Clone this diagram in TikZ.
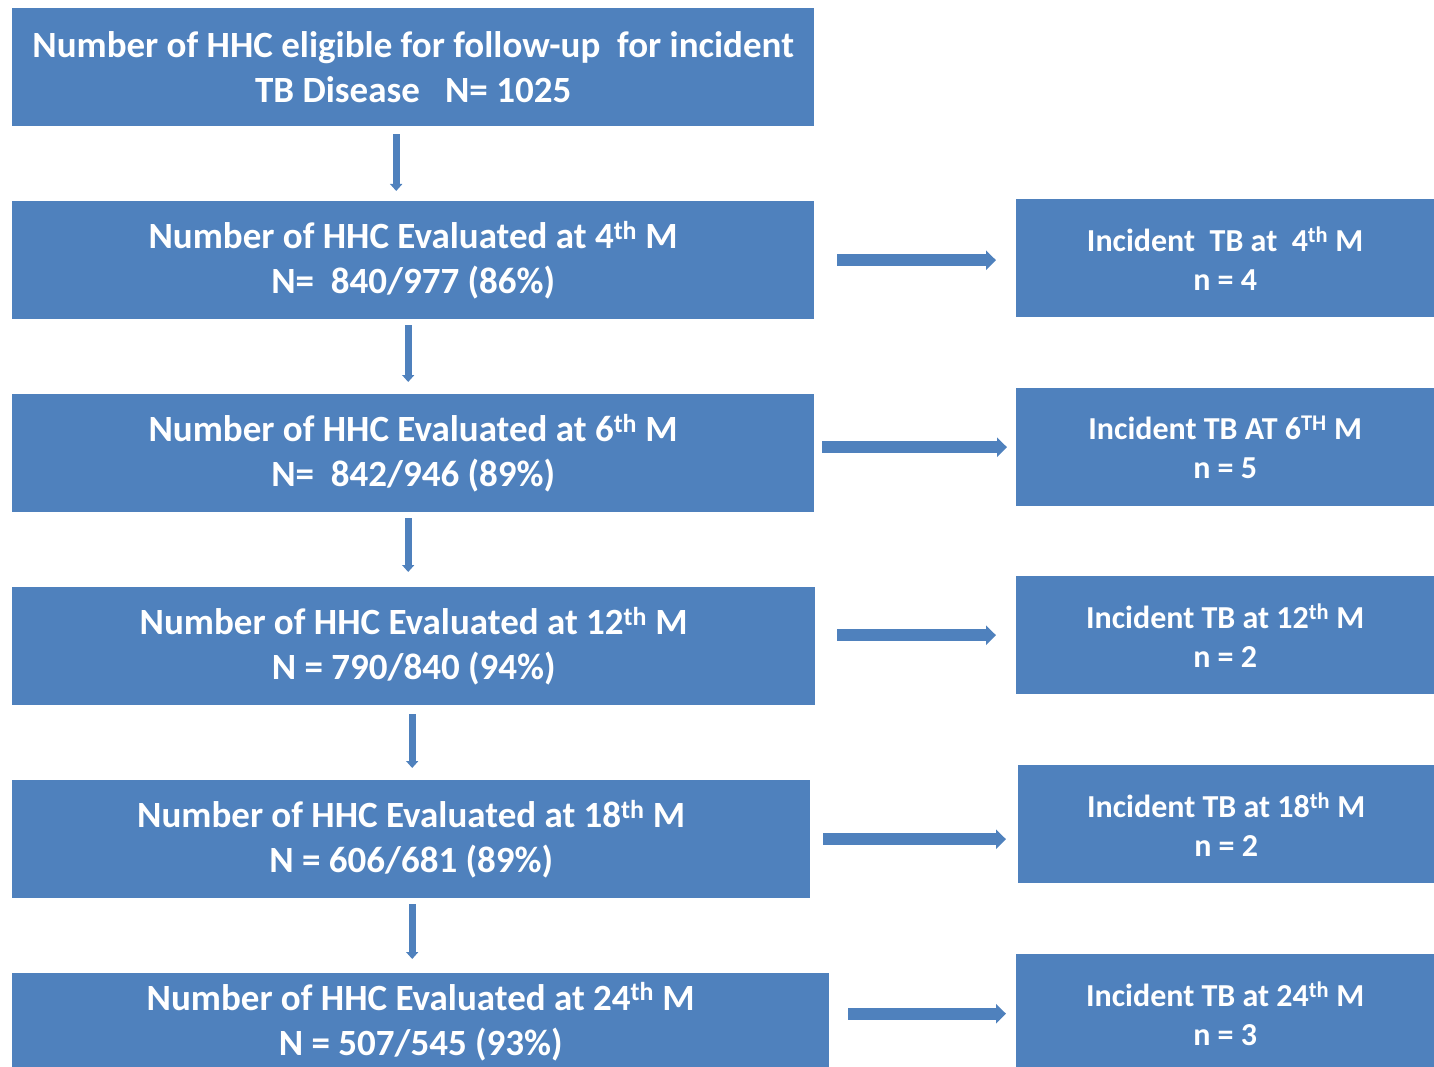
\documentclass[tikz,border=0pt]{standalone}
\usepackage{fontspec}
\setmainfont{Carlito}
\usetikzlibrary{arrows.meta}
\definecolor{boxblue}{HTML}{4F81BD}
\tikzset{
  x=1pt, y=-1pt,
  lbox/.style={fill=boxblue, text=white, inner sep=0pt, anchor=north west, align=center,
    font=\fontsize{37}{45}\selectfont\bfseries},
  rbox/.style={fill=boxblue, text=white, inner sep=0pt, anchor=north west, align=center,
    font=\fontsize{32}{39}\selectfont\bfseries},
  varrow/.style={draw=boxblue, line width=7pt, -{Triangle[length=7pt, width=12pt]}},
  harrow/.style={draw=boxblue, line width=12pt, -{Triangle[length=10pt, width=19pt]}},
}
\begin{document}
\begin{tikzpicture}
\useasboundingbox (0,0) rectangle (1434,1067);
\clip (0,0) rectangle (1434,1067);
% left column
\node[lbox, minimum width=802pt, minimum height=118pt] (b1) at (12,8)
  {Number of HHC eligible for follow-up\ \ for incident\\TB Disease\ \ \ N= 1025};
\node[lbox, minimum width=802pt, minimum height=118pt] (b2) at (12,201)
  {Number of HHC Evaluated at 4\textsuperscript{th} M\\N=\ \ 840/977 (86\%)};
\node[lbox, minimum width=802pt, minimum height=118pt] (b3) at (12,394)
  {Number of HHC Evaluated at 6\textsuperscript{th} M\\N=\ \ 842/946 (89\%)};
\node[lbox, minimum width=803pt, minimum height=118pt] (b4) at (12,587)
  {Number of HHC Evaluated at 12\textsuperscript{th} M\\N = 790/840 (94\%)};
\node[lbox, minimum width=798pt, minimum height=118pt] (b5) at (12,780)
  {Number of HHC Evaluated at 18\textsuperscript{th} M\\N = 606/681 (89\%)};
\node[lbox, minimum width=817pt, minimum height=97pt] (b6) at (12,973)
  {Number of HHC Evaluated at 24\textsuperscript{th} M\\N = 507/545 (93\%)};
% right column
\node[rbox, minimum width=418pt, minimum height=118pt] (r1) at (1016,199)
  {Incident\ \ TB at\ \ 4\textsuperscript{th} M\\n = 4};
\node[rbox, minimum width=418pt, minimum height=118pt] (r2) at (1016,388)
  {Incident TB AT 6\textsuperscript{TH} M\\n = 5};
\node[rbox, minimum width=418pt, minimum height=118pt] (r3) at (1016,576)
  {Incident TB at 12\textsuperscript{th} M\\n = 2};
\node[rbox, minimum width=416pt, minimum height=118pt] (r4) at (1018,765)
  {Incident TB at 18\textsuperscript{th} M\\n = 2};
\node[rbox, minimum width=418pt, minimum height=119pt] (r5) at (1016,954)
  {Incident TB at 24\textsuperscript{th} M\\n = 3};
% vertical arrows
\draw[varrow, shorten <=8pt, shorten >=10pt] ([xshift=-17pt]b1.south) -- ([xshift=-17pt]b1.south |- b2.north);
\draw[varrow, shorten <=6pt, shorten >=12pt] ([xshift=-5pt]b2.south) -- ([xshift=-5pt]b2.south |- b3.north);
\draw[varrow, shorten <=6pt, shorten >=15pt] ([xshift=-5pt]b3.south) -- ([xshift=-5pt]b3.south |- b4.north);
\draw[varrow, shorten <=9pt, shorten >=12pt] ([xshift=-1.5pt]b4.south) -- ([xshift=-1.5pt]b4.south |- b5.north);
\draw[varrow, shorten <=6pt, shorten >=14pt] ([xshift=1pt]b5.south) -- ([xshift=1pt]b5.south |- b6.north);
% horizontal arrows
\draw[harrow, shorten <=23pt, shorten >=20pt] (b2.east) -- (b2.east -| r1.west);
\draw[harrow, shorten <=8pt, shorten >=9pt] ([yshift=6pt]b3.east) -- ([yshift=6pt]b3.east -| r2.west);
\draw[harrow, shorten <=22pt, shorten >=20pt] ([yshift=11pt]b4.east) -- ([yshift=11pt]b4.east -| r3.west);
\draw[harrow, shorten <=13pt, shorten >=12pt] (b5.east) -- (b5.east -| r4.west);
\draw[harrow, shorten <=19pt, shorten >=10pt] ([yshift=8pt]b6.east) -- ([yshift=8pt]b6.east -| r5.west);
\end{tikzpicture}
\end{document}
